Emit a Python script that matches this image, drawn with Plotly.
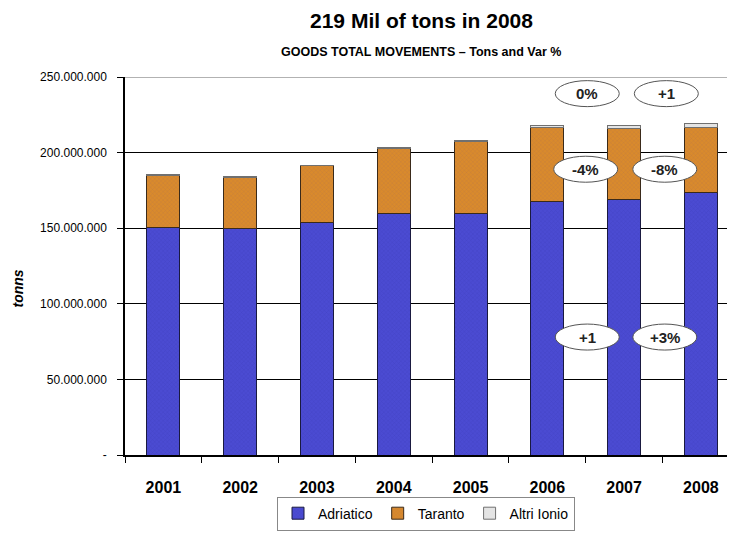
import plotly.graph_objects as go

# Goods movements (tons), by port group
years = ["2001", "2002", "2003", "2004", "2005", "2006", "2007", "2008"]
adriatico = [150.6e6, 149.7e6, 153.5e6, 159.4e6, 160.0e6, 167.6e6, 169.0e6, 173.3e6]
taranto = [34.5e6, 34.1e6, 37.7e6, 43.6e6, 47.6e6, 48.8e6, 47.0e6, 43.2e6]
altri_ionio = [0.3e6, 0.3e6, 0.4e6, 0.7e6, 0.7e6, 1.5e6, 1.9e6, 2.5e6]

y_ticks = [0, 50e6, 100e6, 150e6, 200e6, 250e6]
y_tick_text = ["-", "50.000.000", "100.000.000", "150.000.000", "200.000.000", "250.000.000"]

# Variation callouts: (x position between categories, y value, text)
callouts = [
    (5.52, 239e6, "0%"),
    (6.55, 239e6, "+1"),
    (5.5, 189e6, "-4%"),
    (6.53, 189e6, "-8%"),
    (5.52, 78e6, "+1"),
    (6.53, 78e6, "+3%"),
]

FONT = "Liberation Sans, Arial, sans-serif"

fig = go.Figure()
fig.add_trace(go.Bar(
    x=years, y=adriatico, name="Adriatico",
    marker=dict(color="#4b4bd2", line=dict(color="#1a1a40", width=1),
                pattern=dict(shape="x", size=3, fgcolor="#2f2f9a", fgopacity=0.35, solidity=0.2)),
))
fig.add_trace(go.Bar(
    x=years, y=taranto, name="Taranto",
    marker=dict(color="#d98a2c", line=dict(color="#3a2a1a", width=1),
                pattern=dict(shape="x", size=3, fgcolor="#8a5a6a", fgopacity=0.35, solidity=0.2)),
))
fig.add_trace(go.Bar(
    x=years, y=altri_ionio, name="Altri Ionio",
    marker=dict(color="#e4e4e4", line=dict(color="#707070", width=1)),
))

shapes = []
annotations = []
for cx, cy, txt in callouts:
    shapes.append(dict(
        type="circle", xref="x", yref="y", xsizemode="pixel", ysizemode="pixel",
        xanchor=cx, yanchor=cy, x0=-32, x1=32, y0=-13, y1=13,
        fillcolor="white", line=dict(color="#555555", width=1), layer="above",
    ))
    annotations.append(dict(
        x=cx, y=cy, xref="x", yref="y", text=f"<b>{txt}</b>", showarrow=False,
        font=dict(family=FONT, size=15, color="#222222"),
    ))

# top gridline drawn lighter
shapes.append(dict(type="line", xref="paper", yref="y", x0=0, x1=1, y0=250e6, y1=250e6,
                   line=dict(color="#999999", width=1.5), layer="above"))

annotations.append(dict(
    x=-0.178, y=0.44, xref="paper", yref="paper", xanchor="center", yanchor="middle",
    text="<b><i>tonns</i></b>",
    textangle=-90, showarrow=False, font=dict(family=FONT, size=14, color="black"),
))
annotations.append(dict(
    x=0.492, y=1.066, xref="paper", yref="paper", xanchor="center", yanchor="middle",
    text="<b>GOODS TOTAL MOVEMENTS – Tons and Var %</b>", showarrow=False,
    font=dict(family=FONT, size=12.5, color="black"),
))

fig.update_layout(
    width=733, height=537,
    margin=dict(l=125, r=6, t=77, b=78),
    paper_bgcolor="white", plot_bgcolor="white",
    barmode="stack", bargap=0.57,
    font=dict(family=FONT, color="black"),
    title=dict(text="<b>219 Mil of tons in 2008</b>", x=0.575, xanchor="center",
               y=0.962, yanchor="middle", font=dict(family=FONT, size=21, color="black")),
    shapes=shapes,
    annotations=annotations,
    legend=dict(orientation="h", x=0.5, xanchor="center", y=-0.2, yanchor="bottom",
                bordercolor="#888888", borderwidth=1, font=dict(family=FONT, size=14),
                traceorder="normal", itemwidth=30, tracegroupgap=0),
    xaxis=dict(type="category", range=[-0.5, 7.34], tickson="boundaries",
               ticks="outside", ticklen=6, tickcolor="black", showline=True,
               linecolor="black", linewidth=1.5, showgrid=False,
               tickfont=dict(family=FONT, size=16, color="black"), ticklabelstandoff=17),
    yaxis=dict(range=[0, 250e6], tickvals=y_ticks, ticktext=y_tick_text,
               ticks="outside", ticklen=6, tickcolor="black", showline=True,
               linecolor="black", linewidth=1.5, showgrid=True, gridcolor="black",
               gridwidth=1, zeroline=False,
               tickfont=dict(family=FONT, size=12, color="black"), ticklabelstandoff=8),
)

# tick labels in bold for the category axis
fig.update_xaxes(ticktext=[f"<b>{y}</b>" for y in years], tickvals=years)

fig.write_html("out.html")
